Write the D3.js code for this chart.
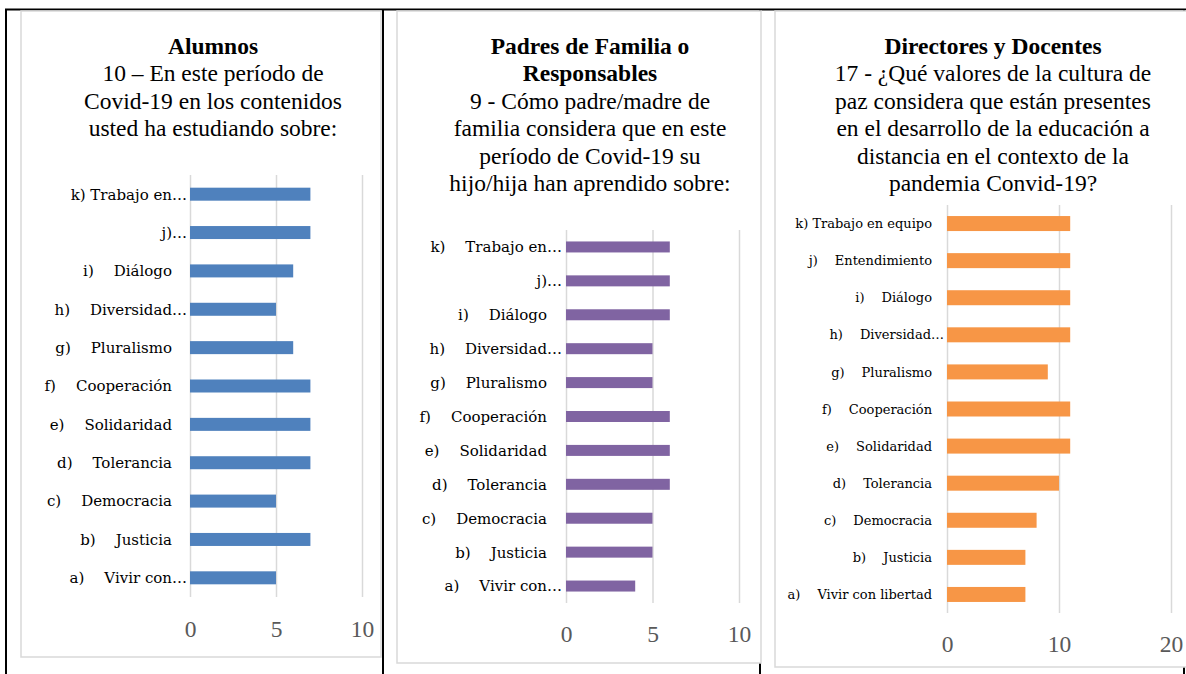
<!DOCTYPE html>
<html>
<head>
<meta charset="utf-8">
<script src="https://cdn.jsdelivr.net/npm/d3@7"></script>
<style>
  body { margin: 0; background: #fff; }
  svg { display: block; }
</style>
</head>
<body>
<svg id="chart" width="1186" height="674"></svg>
<script>
// ---- data (a → k, bottom to top) ----
const alumnosLabels = ["a)\tVivir con…", "b)\tJusticia", "c)\tDemocracia", "d)\tTolerancia", "e)\tSolidaridad",
    "f)\tCooperación", "g)\tPluralismo", "h)\tDiversidad…", "i)\tDiálogo", "j)…", "k) Trabajo en…"];
const alumnosValues = [5, 7, 5, 7, 7, 7, 6, 5, 6, 7, 7];

const padresLabels = ["a)\tVivir con…", "b)\tJusticia", "c)\tDemocracia", "d)\tTolerancia", "e)\tSolidaridad",
    "f)\tCooperación", "g)\tPluralismo", "h)\tDiversidad…", "i)\tDiálogo", "j)…", "k)\tTrabajo en…"];
const padresValues = [4, 5, 5, 6, 6, 6, 5, 5, 6, 6, 6];

const docentesLabels = ["a)\tVivir con libertad", "b)\tJusticia", "c)\tDemocracia", "d)\tTolerancia", "e)\tSolidaridad",
    "f)\tCooperación", "g)\tPluralismo", "h)\tDiversidad…", "i)\tDiálogo", "j)\tEntendimiento", "k) Trabajo en equipo"];
const docentesValues = [7, 7, 8, 10, 11, 11, 9, 11, 11, 11, 11];

const ticksSmall = [0, 5, 10];
const ticksLarge = [0, 10, 20];

const alumnosTitle = ["Alumnos", "10 – En este período de", "Covid-19 en los contenidos", "usted ha estudiando sobre:"];
const padresTitle = ["Padres de Familia o", "Responsables", "9 - Cómo padre/madre de",
    "familia considera que en este", "período de Covid-19 su", "hijo/hija han aprendido sobre:"];
const docentesTitle = ["Directores y Docentes", "17 - ¿Qué valores de la cultura de", "paz considera que están presentes",
    "en el desarrollo de la educación a", "distancia en el contexto de la", "pandemia Convid-19?"];

// ---- layout of the three panels ----
const panels = [
    { labels: alumnosLabels, values: alumnosValues, ticks: ticksSmall, title: alumnosTitle, boldLines: 1,
      color: "#4f81bd", box: { x: 21, y: 11, w: 360, h: 646 }, titleX: 213,
      plot: { x0: 190, x1: 362, y0: 175, y1: 597 }, barH: 13, labelSize: 15,
      cutRight: 3, fullRight: 18, gap: 20, tickY: 637 },
    { labels: padresLabels, values: padresValues, ticks: ticksSmall, title: padresTitle, boldLines: 2,
      color: "#8064a2", box: { x: 397, y: 11, w: 364, h: 652 }, titleX: 590,
      plot: { x0: 566, x1: 739, y0: 230, y1: 603 }, barH: 11, labelSize: 15,
      cutRight: 4, fullRight: 19, gap: 20, tickY: 642 },
    { labels: docentesLabels, values: docentesValues, ticks: ticksLarge, title: docentesTitle, boldLines: 1,
      color: "#f79646", box: { x: 775, y: 11, w: 430, h: 656 }, titleX: 993,
      plot: { x0: 947, x1: 1171, y0: 205, y1: 613 }, barH: 15, labelSize: 13,
      cutRight: 3, fullRight: 15, gap: 17, tickY: 652 }
];

var svg = d3.select("#chart");

// table lines behind the chart pictures
var table = svg.append("g").attr("stroke", "#000").attr("stroke-width", 2);
table.append("line").attr("x1", 5).attr("x2", 1186).attr("y1", 9.5).attr("y2", 9.5);
[6, 383, 760, 1184].forEach(function (x) {
    table.append("line").attr("x1", x).attr("x2", x).attr("y1", 9).attr("y2", 674);
});

panels.forEach(function (p) {
    var g = svg.append("g");

    // chart frame
    g.append("rect")
        .attr("x", p.box.x).attr("y", p.box.y)
        .attr("width", p.box.w).attr("height", p.box.h)
        .attr("fill", "#fff")
        .attr("stroke", "#d9d9d9")
        .attr("stroke-width", 1.5);

    // title
    var title = g.append("text")
        .attr("text-anchor", "middle")
        .style("font-family", "'Liberation Serif', 'Times New Roman', serif")
        .style("font-size", "23.5px")
        .attr("fill", "#000");
    p.title.forEach(function (line, i) {
        title.append("tspan")
            .attr("x", p.titleX)
            .attr("y", 54 + i * 27.4)
            .style("font-weight", i < p.boldLines ? "bold" : "normal")
            .text(line);
    });

    // scales
    var x = d3.scaleLinear()
        .domain([p.ticks[0], p.ticks[p.ticks.length - 1]])
        .range([p.plot.x0, p.plot.x1]);

    var n = p.labels.length;
    var step = (p.plot.y1 - p.plot.y0) / n;
    var pad = 1 - p.barH / step;
    var y = d3.scaleBand()
        .domain(p.labels.slice().reverse())
        .range([p.plot.y0, p.plot.y1])
        .paddingInner(pad)
        .paddingOuter(pad / 2);

    // vertical gridlines
    var grid = g.append("g")
        .attr("transform", "translate(0," + p.plot.y1 + ")")
        .call(d3.axisBottom(x).tickValues(p.ticks).tickSize(-(p.plot.y1 - p.plot.y0)).tickFormat(""));
    grid.select(".domain").remove();
    grid.selectAll("line").attr("stroke", "#d9d9d9").attr("stroke-width", 1.5);

    // bars
    g.selectAll(".bar")
        .data(p.values)
        .enter().append("rect")
        .attr("class", "bar")
        .attr("x", x(0))
        .attr("y", function (d, i) { return y(p.labels[i]); })
        .attr("width", function (d) { return x(d) - x(0); })
        .attr("height", y.bandwidth())
        .attr("fill", p.color);

    // tick labels
    var axis = g.append("g")
        .attr("transform", "translate(0," + p.tickY + ")")
        .call(d3.axisBottom(x).tickValues(p.ticks).tickSize(0).tickPadding(0));
    axis.select(".domain").remove();
    axis.selectAll("text")
        .attr("dy", 0)
        .attr("y", 0)
        .attr("fill", "#595959")
        .style("font-family", "'Liberation Serif', 'Times New Roman', serif")
        .style("font-size", "23.5px");

    // category labels: letter + name, name right aligned next to the axis
    p.labels.forEach(function (label) {
        var cy = y(label) + y.bandwidth() / 2 + p.labelSize * 0.36;
        var parts = label.split("\t");
        var right = p.plot.x0 - (label.endsWith("…") ? p.cutRight : p.fullRight);
        var name = g.append("text")
            .attr("x", right)
            .attr("y", cy)
            .attr("text-anchor", "end")
            .style("font-family", "'DejaVu Serif', serif")
            .style("font-size", p.labelSize + "px")
            .attr("fill", "#000")
            .text(parts[parts.length - 1]);
        if (parts.length > 1) {
            var start = right - name.node().getComputedTextLength();
            g.append("text")
                .attr("x", start - p.gap)
                .attr("y", cy)
                .attr("text-anchor", "end")
                .style("font-family", "'DejaVu Serif', serif")
                .style("font-size", p.labelSize + "px")
                .attr("fill", "#000")
                .text(parts[0]);
        }
    });
});
</script>
</body>
</html>
